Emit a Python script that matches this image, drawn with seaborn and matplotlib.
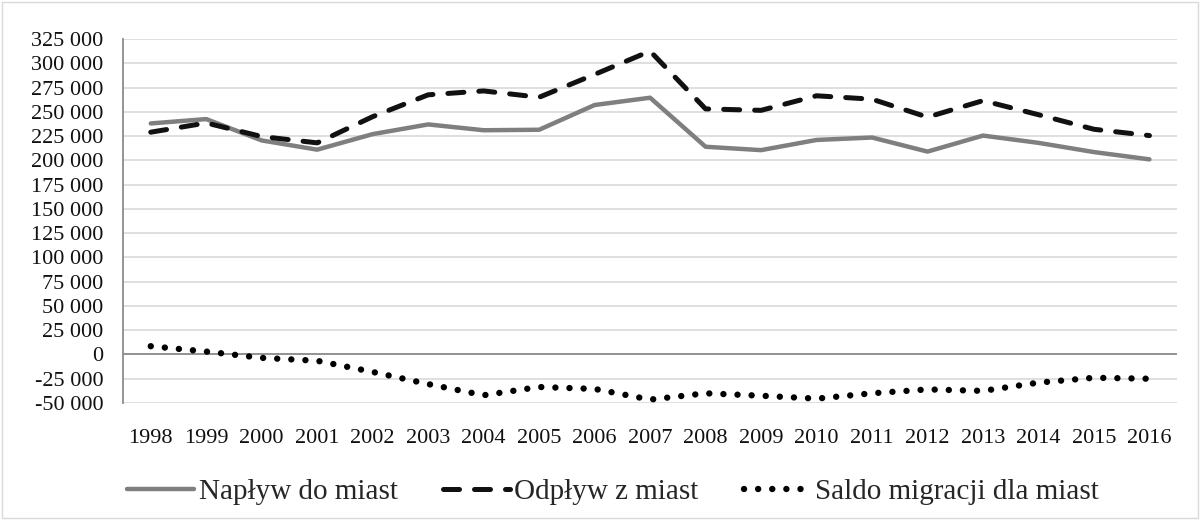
import matplotlib
matplotlib.use("Agg")
import matplotlib.pyplot as plt
from matplotlib.patches import Rectangle
from matplotlib.ticker import FuncFormatter, MultipleLocator
import pandas as pd
import seaborn as sns

years = list(range(1998, 2017))
naplyw = [238000, 242500, 220500, 211000, 227000, 237000, 231000, 231500, 257000, 264500,
          214000, 210500, 221000, 223500, 209000, 225500, 218000, 208500, 201000]
odplyw = [229000, 238500, 224500, 218000, 245000, 267500, 271500, 265000, 288500, 312500,
          253000, 251500, 266500, 263000, 244500, 261500, 247000, 232000, 225500]
saldo = [8500, 3000, -3500, -6500, -18000, -30500, -42000, -33500, -35500, -46500,
         -40000, -42500, -45500, -40000, -36000, -37500, -29000, -24000, -25000]
labels = ["Napływ do miast", "Odpływ z miast", "Saldo migracji dla miast"]

df = pd.DataFrame({"rok": years, labels[0]: naplyw, labels[1]: odplyw, labels[2]: saldo})

sns.set_style("white")
plt.rcParams["font.family"] = ["Liberation Serif", "DejaVu Serif"]

fig = plt.figure(figsize=(12, 5.2), dpi=100)
ax = fig.add_axes([0.1025, 0.225, 0.8785, 0.70])

sns.lineplot(data=df, x="rok", y=labels[0], ax=ax, color="#7f7f7f", linewidth=3.2,
             label=labels[0])
sns.lineplot(data=df, x="rok", y=labels[1], ax=ax, color="#111111", linewidth=3.6,
             label=labels[1], linestyle=(0, (3.2, 3.0)), dash_capstyle="round")
sns.lineplot(data=df, x="rok", y=labels[2], ax=ax, color="#000000", linewidth=4.6,
             label=labels[2], linestyle=(0, (0.01, 2.2)), dash_capstyle="round")

ax.set_xlim(1997.5, 2016.5)
ax.set_ylim(-50000, 325000)
ax.set_xticks(years)
ax.yaxis.set_major_locator(MultipleLocator(25000))
ax.yaxis.set_major_formatter(FuncFormatter(lambda v, p: f"{int(v):,}".replace(",", " ")))
ax.grid(axis="y", color="#d9d9d9", linewidth=1.2)
ax.set_axisbelow(True)
ax.axhline(0, color="#8c8c8c", linewidth=1.3, zorder=1)
for side in ["top", "right", "bottom"]:
    ax.spines[side].set_visible(False)
ax.spines["left"].set_color("#8c8c8c")
ax.spines["left"].set_linewidth(1.3)
ax.tick_params(axis="both", length=0, labelsize=16, labelcolor="#111111")
ax.tick_params(axis="x", pad=19)
ax.tick_params(axis="y", pad=14)
ax.set_xlabel("")
ax.set_ylabel("")

ax.legend(loc="upper center", bbox_to_anchor=(0.465, -0.135), ncol=3, frameon=False,
          fontsize=21, handlelength=2.3, columnspacing=1.55, handletextpad=0.15)

fig.patches.append(Rectangle((0.002, 0.003), 0.996, 0.994, transform=fig.transFigure,
                             fill=False, edgecolor="#d9d9d9", linewidth=1))

fig.savefig("out.png", dpi=100)
